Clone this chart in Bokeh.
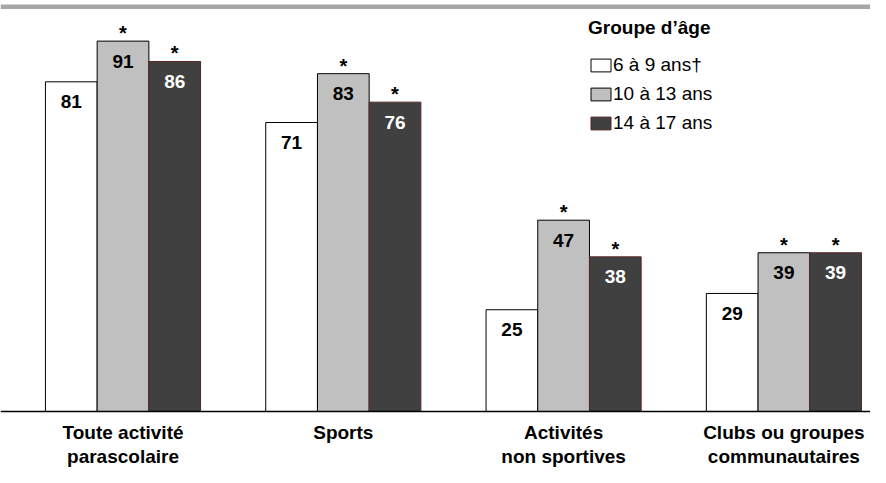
from bokeh.plotting import figure
from bokeh.models import ColumnDataSource, Range1d, Span, Legend, LegendItem
from bokeh.transform import dodge
from bokeh.core.properties import value
from bokeh.embed import file_html
from bokeh.resources import INLINE

# ---- data ----
categories = ["Toute activité\nparascolaire", "Sports",
              "Activités\nnon sportives", "Clubs ou groupes\ncommunautaires"]
age_groups = ["6 à 9 ans†", "10 à 13 ans", "14 à 17 ans"]
age_6_9 = [81, 71, 25, 29]
age_10_13 = [91, 83, 47, 39]
age_14_17 = [86, 76, 38, 39]
sig_10_13 = [True, True, True, True]
sig_14_17 = [True, True, True, True]
legend_title = "Groupe d’âge"

FONT = "Liberation Sans"

src = ColumnDataSource(dict(
    idx=list(range(len(categories))),
    cat=categories,
    v0=age_6_9, v1=age_10_13, v2=age_14_17,
    t0=[str(v) for v in age_6_9],
    t1=[str(v) for v in age_10_13],
    t2=[str(v) for v in age_14_17],
    s1=["*" if s else "" for s in sig_10_13],
    s2=["*" if s else "" for s in sig_14_17],
))

p = figure(width=870, height=467,
           x_range=Range1d(-0.5561, 3.3931),
           y_range=Range1d(-13.76, 100.98),
           output_backend="svg", toolbar_location=None,
           x_axis_type=None, y_axis_type=None, min_border=0)
p.outline_line_color = None
p.background_fill_color = "white"

W = 0.2347
offsets = [-W, 0.0, W]
fills = ["#FFFFFF", "#C0C0C0", "#404040"]
lines = ["#000000", "#000000", "#5a2424"]
txt_colors = ["#000000", "#000000", "#FFFFFF"]

renderers = []
for k in range(3):
    r = p.vbar(x=dodge("idx", offsets[k], range=p.x_range), top=f"v{k}", bottom=0,
               width=W, source=src, fill_color=fills[k], line_color=lines[k], line_width=1)
    renderers.append(r)
    p.text(x=dodge("idx", offsets[k], range=p.x_range), y=f"v{k}", text=f"t{k}", source=src,
           text_align="center", text_baseline="middle", y_offset=20,
           text_font=value(FONT), text_font_style="bold", text_font_size="19px",
           text_color=txt_colors[k])
    if k > 0:
        p.text(x=dodge("idx", offsets[k], range=p.x_range), y=f"v{k}", text=f"s{k}", source=src,
               text_align="center", text_baseline="alphabetic", y_offset=-8,
               text_font=value(FONT), text_font_style="bold", text_font_size="20px",
               text_color="#000000")

# category labels
p.text(x="idx", y=0, text="cat", source=src, text_align="center", text_baseline="top",
       y_offset=11, text_line_height=1.1,
       text_font=value(FONT), text_font_style="bold", text_font_size="19px",
       text_color="#000000")

# baseline axis line and top rule
p.add_layout(Span(location=0, dimension="width", line_color="#000000", line_width=1.5))
p.add_layout(Span(location=99.44, dimension="width", line_color="#A6A6A6", line_width=4.5))

legend = Legend(
    items=[LegendItem(label=g, renderers=[r]) for g, r in zip(age_groups, renderers)],
    location=(588, 333.5), title=legend_title,
    title_text_font=FONT, title_text_font_style="bold", title_text_font_size="19px",
    title_text_color="#000000", title_standoff=15,
    label_text_font=FONT, label_text_font_size="19px", label_text_color="#000000",
    glyph_width=25, glyph_height=16, label_height=21, spacing=7,
    padding=0, margin=0, label_standoff=0,
    border_line_color=None, background_fill_alpha=0,
)
p.add_layout(legend)

open("out.html", "w").write(file_html(p, INLINE))
